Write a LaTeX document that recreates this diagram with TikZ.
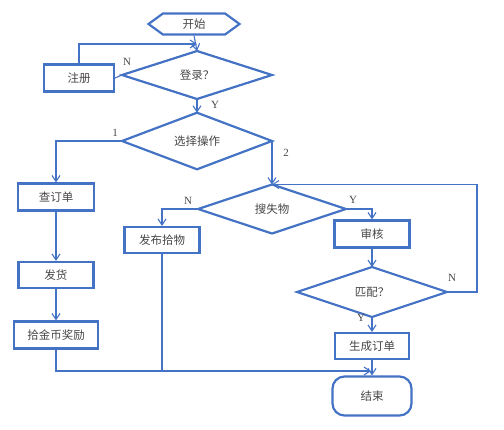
\documentclass[tikz,border=0pt]{standalone}
\usepackage{fontspec}
\newfontfamily\cjk{Noto Sans CJK SC}
\setmainfont{Liberation Serif}
\usetikzlibrary{arrows.meta,shapes.geometric,shapes.symbols}
\definecolor{flowblue}{RGB}{68,114,196}
\definecolor{inkgray}{RGB}{70,70,70}
\newcommand{\boxfont}{\cjk\fontsize{11.5}{13}\selectfont}
\tikzset{
    procbox/.style={draw=flowblue,line width=2.2pt,rectangle,minimum height=26pt,
        inner sep=0pt,font=\boxfont,text=inkgray},
    decision/.style={draw=flowblue,line width=2.2pt,diamond,minimum width=150pt,
        minimum height=49pt,inner sep=0pt,outer sep=0pt,font=\boxfont,text=inkgray},
    terminal/.style={draw=flowblue,line width=2.2pt,rounded corners=12pt,minimum width=79pt,
        minimum height=39pt,inner sep=0pt,font=\boxfont,text=inkgray},
    startbox/.style={draw=flowblue,line width=2.2pt,signal,signal to=east and west,
        signal pointer angle=72,minimum width=91pt,minimum height=21pt,inner sep=0pt,
        font=\boxfont,text=inkgray},
    flowline/.style={draw=flowblue,line width=1.1pt},
    flowarrow/.style={flowline,-{Straight Barb[length=6pt,width=8pt]}},
    branchlabel/.style={font=\fontsize{11}{13}\selectfont,text=inkgray}
}

\begin{document}
\begin{tikzpicture}[x=1pt,y=-1pt]
    \useasboundingbox (0,0) rectangle (504,429);
    % Nodes
    \node[startbox] (start) at (194,24) {开始};
    \node[decision,minimum height=48pt] (login) at (197,75) {登录？};
    \node[procbox,minimum width=70pt,minimum height=27pt] (reg) at (79,78) {注册};
    \node[decision] (choose) at (197,141) {选择操作};
    \node[procbox,minimum width=76pt,minimum height=27pt] (check) at (56,197) {查订单};
    \node[procbox,minimum width=75pt] (ship) at (56,275) {发货};
    \node[procbox,minimum width=84pt,minimum height=27pt] (reward) at (56,335) {拾金币奖励};
    \node[decision,minimum width=148pt] (search) at (272,209) {搜失物};
    \node[procbox,minimum width=75pt] (post) at (162,240) {发布拾物};
    \node[procbox,minimum width=75pt,minimum height=27pt] (audit) at (372,234) {审核};
    \node[decision,minimum height=50pt] (match) at (372,292) {匹配？};
    \node[procbox,minimum width=74pt] (order) at (372,346) {生成订单};
    \node[terminal] (finish) at (372,396) {结束};
    \coordinate (loopin) at (197,44);
    \coordinate (mergept) at (371,371);
    % Connectors
    \draw[flowarrow] (start.south) -- (login.north);
    \draw[flowline] (login.west) -- (reg.east);
    \node[branchlabel] (regn) at (127,62) {N};
    \draw[flowarrow] (reg.north) |- (loopin);
    \draw[flowarrow] (login.south) -- (choose.north);
    \node[branchlabel] (loginy) at (215,105) {Y};
    \draw[flowarrow] (choose.west) -| (check.north);
    \node[branchlabel] (one) at (115,133) {1};
    \draw[flowarrow] (choose.east) -- (search.north);
    \node[branchlabel] (two) at (286,153) {2};
    \draw[flowarrow] (check.south) -- (ship.north);
    \draw[flowarrow] (ship.south) -- (reward.north);
    \draw[flowarrow] (search.west) -| (post.north);
    \node[branchlabel] (postn) at (188,201) {N};
    \draw[flowarrow] (search.east) -| (audit.north);
    \node[branchlabel] (audity) at (353,200) {Y};
    \draw[flowarrow] (audit.south) -- (match.north);
    \draw[flowarrow] (match.east) -- ++(30,0) |- (search.north);
    \node[branchlabel] (loopn) at (452,278) {N};
    \draw[flowarrow] (match.south) -- (order.north);
    \node[branchlabel] (ordery) at (361,318) {Y};
    \draw[flowarrow] (order.south) -- (finish.north);
    \draw[flowarrow] (reward.south) |- (mergept);
    \draw[flowline] (post.south) -- (post.south |- mergept);
\end{tikzpicture}
\end{document}
